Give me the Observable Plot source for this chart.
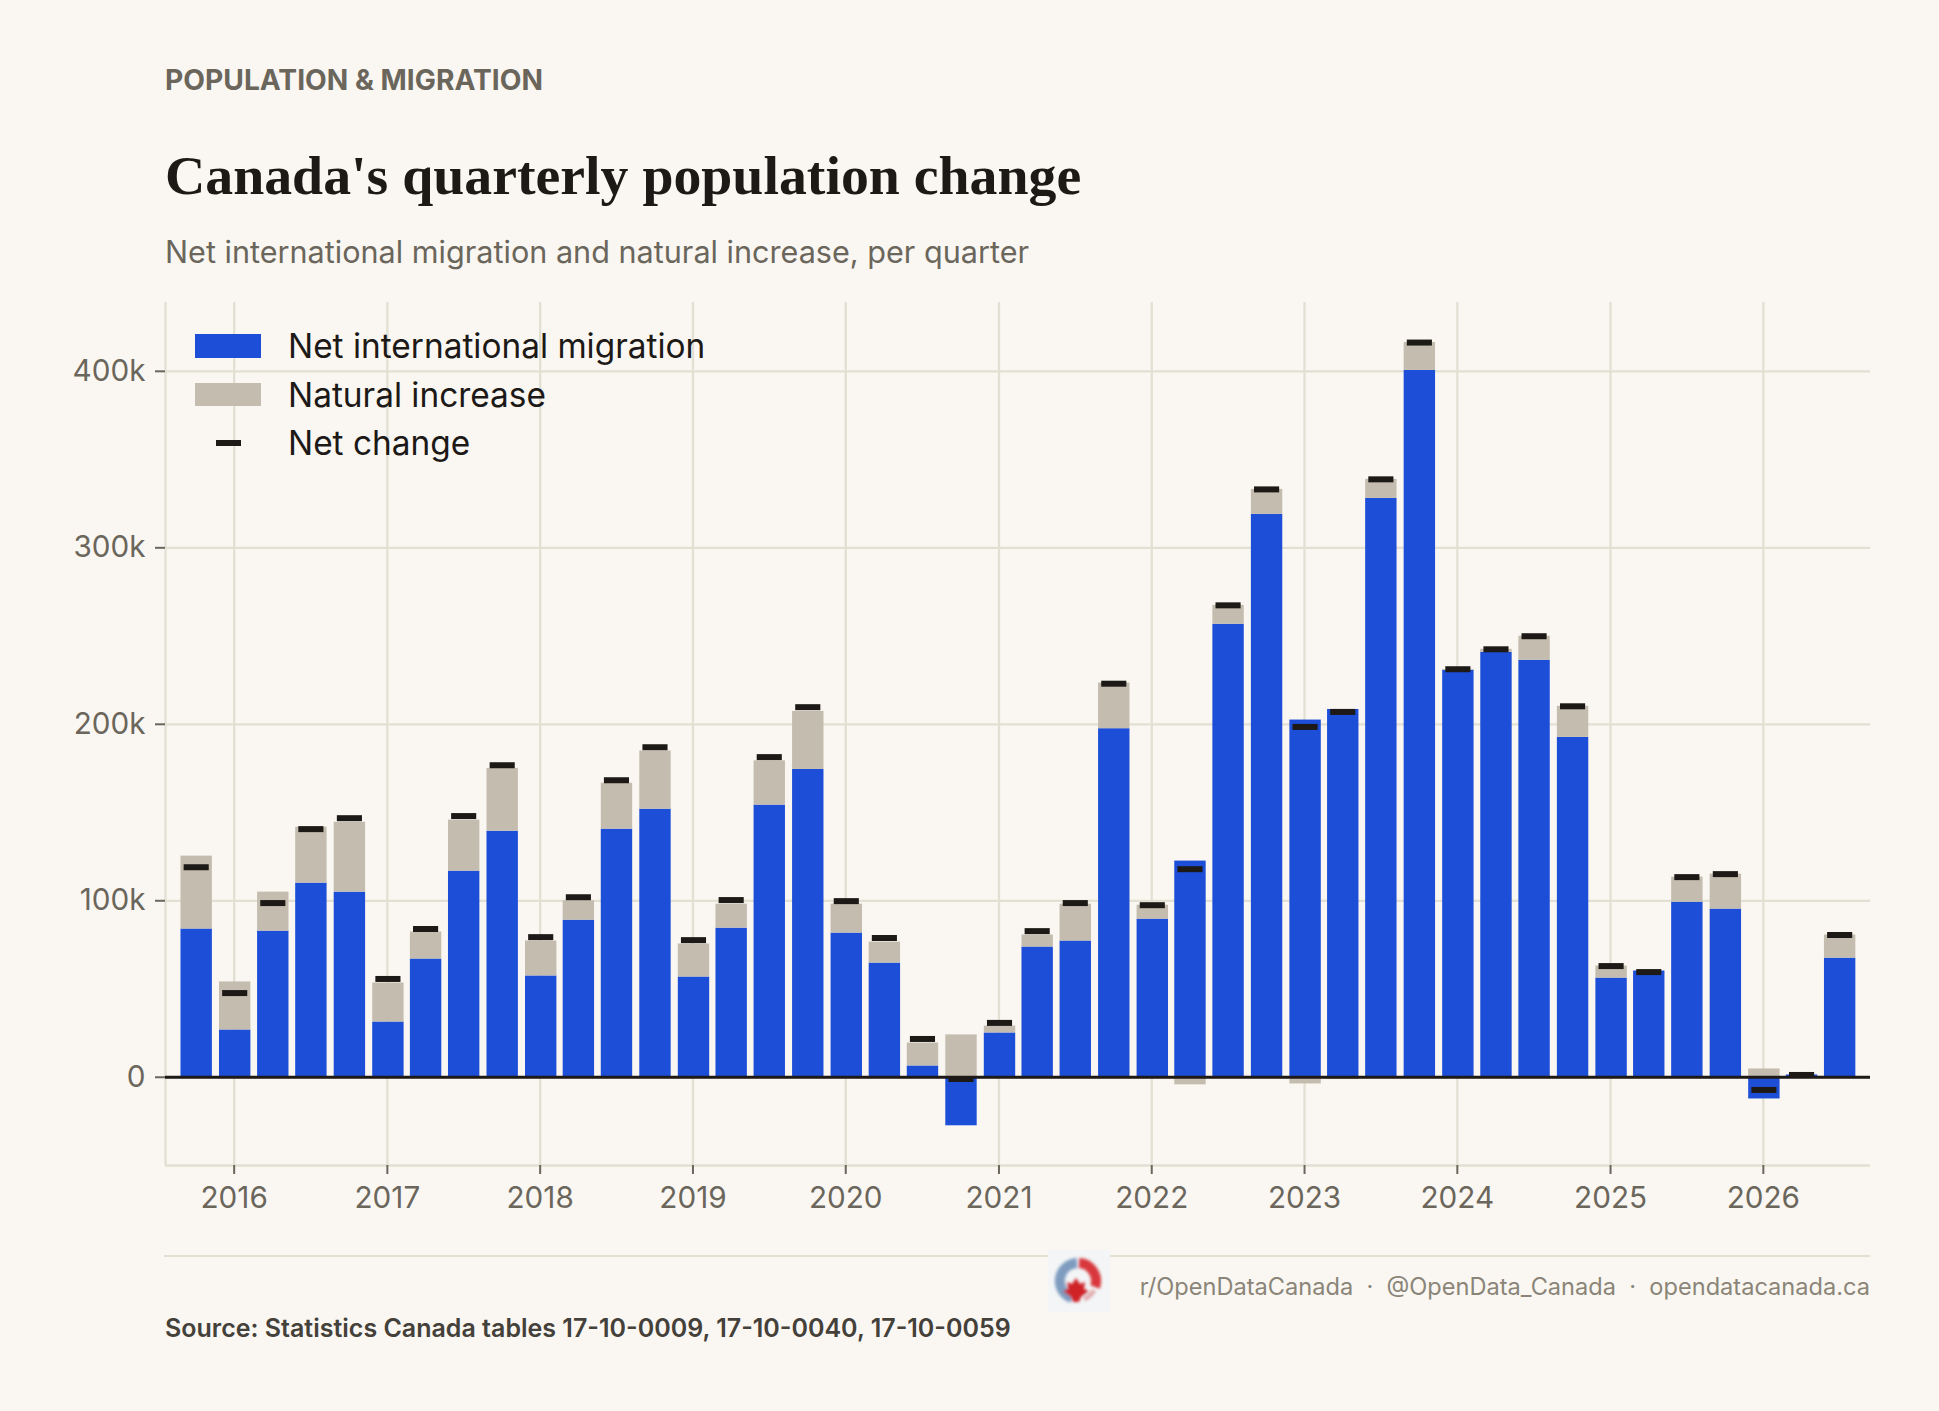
<!DOCTYPE html>
<html><head><meta charset="utf-8">
<script src="https://cdn.jsdelivr.net/npm/d3@7"></script>
<script src="https://cdn.jsdelivr.net/npm/@observablehq/plot@0.6"></script>
<style>
html,body{margin:0;padding:0;background:#faf7f2;}
#page{position:relative;width:1939px;height:1411px;overflow:hidden;background:#faf7f2;font-family:Inter,sans-serif;color:#1c1917;}
#page>div,#page>svg,#chart{position:absolute;white-space:nowrap;}
#chart{left:0;top:290px;}
#chart svg{display:block;background:transparent;}
.legend-label{font-size:33.4px;line-height:40px;color:#1c1917;left:288px;}
.swatch{left:195px;width:66px;}
</style></head><body>
<div id="page">
<div style="left:165px;top:62px;font-size:28.2px;font-weight:700;color:#6b665c;line-height:36px;">POPULATION &amp; MIGRATION</div>
<div style="left:165px;top:140px;font-family:'Liberation Serif',serif;font-size:55.8px;font-weight:700;line-height:70px;color:#1c1917;">Canada's quarterly population change</div>
<div style="left:165px;top:232px;font-size:30.6px;color:#6b665c;line-height:40px;">Net international migration and natural increase, per quarter</div>
<div id="chart"></div>
<div class="swatch" style="top:334px;height:24px;background:#1d4ed8"></div>
<div class="swatch" style="top:383px;height:23px;background:#c4bcae"></div>
<div style="left:216px;width:25px;top:440px;height:6px;background:#1c1917"></div>
<div class="legend-label" style="top:326px">Net international migration</div>
<div class="legend-label" style="top:375px">Natural increase</div>
<div class="legend-label" style="top:423px">Net change</div>
<div style="left:164px;width:1706px;top:1255px;height:2px;background:#e2dfd3"></div>
<svg style="left:1048px;top:1250px" width="62" height="62" viewBox="0 0 62 62">
<defs><filter id="b" x="-20%" y="-20%" width="140%" height="140%"><feGaussianBlur stdDeviation="1.5"/></filter></defs>
<rect width="62" height="62" fill="#f3f5f7"/>
<g filter="url(#b)" fill="none">
<path d="M29 13 A18 18 0 0 0 24 48" stroke="#7f9cc0" stroke-width="10"/>
<path d="M31 13 A18 18 0 0 1 47 37" stroke="#d8383c" stroke-width="10"/>
<path d="M46 40 A18 18 0 0 1 36 49" stroke="#e2aeb0" stroke-width="5"/>
<path d="M28 28 L32 34 L37 32 L36 39 L41 41 L33 47 L31 52 L25 52 L23 47 L15 41 L20 39 L19 32 L24 34 Z" fill="#cf2026"/>
</g></svg>
<div style="right:69px;top:1271px;font-size:23.6px;color:#8a8578;line-height:32px;">r/OpenDataCanada &nbsp;·&nbsp; @OpenData_Canada &nbsp;·&nbsp; opendatacanada.ca</div>
<div style="left:165px;top:1312px;font-size:25px;font-weight:600;color:#44403a;line-height:32px;">Source: Statistics Canada tables 17-10-0009, 17-10-0040, 17-10-0059</div>
</div>
<script>
const quarterYears = [2015,2016,2016,2016,2016,2017,2017,2017,2017,2018,2018,2018,2018,2019,2019,2019,2019,2020,2020,2020,2020,2021,2021,2021,2021,2022,2022,2022,2022,2023,2023,2023,2023,2024,2024,2024,2024,2025,2025,2025,2025,2026,2026,2026];
const quarterMonths = [10,1,4,7,10,1,4,7,10,1,4,7,10,1,4,7,10,1,4,7,10,1,4,7,10,1,4,7,10,1,4,7,10,1,4,7,10,1,4,7,10,1,4,7];
const migration = [84.0,26.8,82.8,110.0,104.9,31.3,67.0,116.8,139.4,57.4,89.0,140.6,151.9,56.8,84.5,154.2,174.4,81.7,64.7,6.4,-27.5,25.1,73.8,77.2,197.5,89.6,122.5,256.7,319.0,202.4,208.4,328.0,400.5,230.6,240.8,236.3,192.6,56.2,60.2,99.2,95.3,-12.3,1.3,67.5];
const natural = [41.3,27.2,22.1,31.7,39.6,22.1,15.3,28.9,35.6,19.8,11.0,26.0,33.0,18.7,13.6,25.1,32.9,16.4,11.9,13.0,24.0,3.9,6.8,20.9,25.9,7.9,-4.3,10.7,14.1,-3.8,-1.3,10.8,15.8,0.5,1.7,13.6,17.6,6.8,0.0,14.2,19.8,4.7,0.0,13.1];
const netChange = [119.0,47.7,98.7,140.6,146.8,55.7,84.0,148.0,176.8,79.4,102.0,168.3,187.0,77.7,100.4,181.4,209.7,99.8,78.9,21.7,-1.0,30.8,82.8,98.7,223.0,97.5,117.9,267.4,333.1,198.5,207.0,338.8,416.3,231.2,242.5,249.9,210.2,63.0,59.6,113.4,115.1,-7.2,1.3,80.6];
const yearTicks = [2016,2017,2018,2019,2020,2021,2022,2023,2024,2025,2026];
const yTicks = [0,100000,200000,300000,400000];

const DAY = 864e5;
const rows = quarterYears.map((yr,i)=>{
  const date = new Date(Date.UTC(yr, quarterMonths[i]-1, 1) + 2.5*DAY);
  const m = migration[i]*1000, n = natural[i]*1000;
  return {date, left:new Date(+date-37.5*DAY), right:new Date(+date+37.5*DAY),
    tl:new Date(+date-30*DAY), tr:new Date(+date+30*DAY),
    m, mBase:0, n, nBase:(m>=0&&n>=0)?m:0, net:netChange[i]*1000};
});
const grid="#e2dfd3", ink="#1c1917", muted="#6b665c";
const xDomain=[new Date(Date.UTC(2015,6,21)), new Date(Date.UTC(2026,8,14))];
const yDomain=[-50000,439000];
const chart = Plot.plot({
  width:1939, height:950,
  marginLeft:165, marginRight:69, marginTop:12, marginBottom:75,
  style:{background:"transparent",fontFamily:"Inter, sans-serif",overflow:"visible"},
  x:{type:"utc",domain:xDomain},
  y:{domain:yDomain},
  marks:[
    Plot.gridX(yearTicks.map(y=>new Date(Date.UTC(y,0,1))),{stroke:grid,strokeOpacity:1,strokeWidth:2.3}),
    Plot.gridY(yTicks,{stroke:grid,strokeOpacity:1,strokeWidth:2.3}),
    Plot.ruleX([xDomain[0]],{stroke:grid,strokeWidth:2.3}),
    Plot.ruleY([yDomain[0]],{stroke:grid,strokeWidth:2.3}),
    Plot.axisX(yearTicks.map(y=>new Date(Date.UTC(y,0,1))),{
      tickFormat:d=>String(d.getUTCFullYear()),tickSize:9,tickPadding:12,strokeWidth:2,
      stroke:muted,fill:muted,fontSize:29.7,fontVariant:"normal",label:null}),
    Plot.axisY(yTicks,{
      tickFormat:d=>d===0?"0":(d/1000)+"k",tickSize:10,tickPadding:10,strokeWidth:2,
      stroke:muted,fill:muted,fontSize:29.7,fontVariant:"normal",label:null}),
    Plot.rect(rows,{x1:"left",x2:"right",y1:"mBase",y2:"m",fill:"#1d4ed8"}),
    Plot.rect(rows,{x1:"left",x2:"right",y1:"nBase",y2:d=>d.nBase+d.n,fill:"#c4bcae"}),
    Plot.ruleY(rows,{x1:"tl",x2:"tr",y:"net",stroke:ink,strokeWidth:6}),
    Plot.ruleY([0],{stroke:ink,strokeWidth:3})
  ]
});
document.getElementById("chart").appendChild(chart);
</script>
</body></html>
